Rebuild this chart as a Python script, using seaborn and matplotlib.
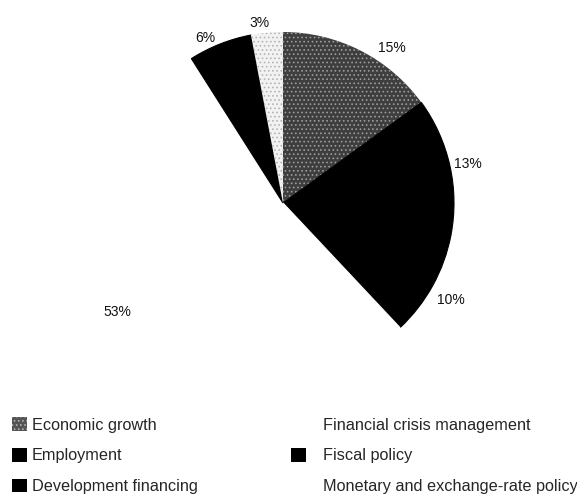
import matplotlib
matplotlib.use("Agg")
import matplotlib.pyplot as plt
from matplotlib.patches import Patch
import numpy as np
import seaborn as sns

# Share of topics, clockwise from twelve o'clock
topics = ["Economic growth", "Employment", "Development financing",
          "Financial crisis management", "Fiscal policy",
          "Monetary and exchange-rate policy"]
shares = [15, 13, 10, 53, 6, 3]

# Fill, hatch and hatch colour for each wedge
fills = ["#3e3e3e", "#000000", "#000000", "#ffffff", "#000000", "#f2f2f2"]
hatches = ["....", None, None, None, None, "...."]
hatch_colors = ["#9c9c9c", "#000000", "#000000", "#ffffff", "#000000", "#b5b5b5"]
# Swatches shown next to the legend entries
swatch_fill = ["#555555", "#000000", "#000000", "#ffffff", "#000000", "#ffffff"]
swatch_hatch = ["....", None, None, None, None, None]

# Label placement: angular nudge (degrees) and radial distance
label_nudge = [-8, -0.7, -1.2, -4.5, 3.7, 1.9]
label_dist = [1.11, 1.105, 1.135, 1.16, 1.067, 1.06]

sns.set_theme(style="white")
plt.rcParams["font.family"] = ["Liberation Sans", "DejaVu Sans"]
plt.rcParams["hatch.linewidth"] = 0.7

W, H = 577, 494
fig = plt.figure(figsize=(W / 100, H / 100), dpi=100)
cx, cy, r = 283, 203, 171
ax = fig.add_axes([(cx - r) / W, (H - cy - r) / H, 2 * r / W, 2 * r / H])

wedges, _ = ax.pie(shares, colors=fills, startangle=90, counterclock=False,
                   radius=1.0, wedgeprops=dict(linewidth=0))
for w, h, hc, fc in zip(wedges, hatches, hatch_colors, fills):
    if h:
        w.set_edgecolor(hc)
        w.set_linewidth(0)
        w.set_hatch(h)
    else:
        # solid wedges get an edge in their own colour so neighbours merge
        w.set_edgecolor(fc)
        w.set_linewidth(0.8)

# Percentage labels just outside the rim
for w, val, nudge, dist in zip(wedges, shares, label_nudge, label_dist):
    mid = np.deg2rad((w.theta1 + w.theta2) / 2 + nudge)
    ax.text(dist * np.cos(mid), dist * np.sin(mid), f"{val}%",
            ha="center", va="center", fontsize=10, color="#111111")

ax.set_xlim(-1, 1)
ax.set_ylim(-1, 1)
ax.set_aspect("equal")
ax.axis("off")

handles = [Patch(facecolor=c, edgecolor="#b0b0b0" if h else "none",
                 hatch=h, linewidth=0)
           for c, h in zip(swatch_fill, swatch_hatch)]
fs = 11.7
common = dict(frameon=False, fontsize=fs, borderpad=0, borderaxespad=0,
              handlelength=0.9, handleheight=0.9, labelspacing=0.94)
fig.legend(handles[:3], topics[:3], loc="upper left",
           bbox_to_anchor=(12 / W, 1 - 417.5 / H), handletextpad=0.32, **common)
fig.legend(handles[3:], topics[3:], loc="upper left",
           bbox_to_anchor=(291 / W, 1 - 417.5 / H), handletextpad=1.05, **common)

fig.savefig("out.png", dpi=100, facecolor="white")
